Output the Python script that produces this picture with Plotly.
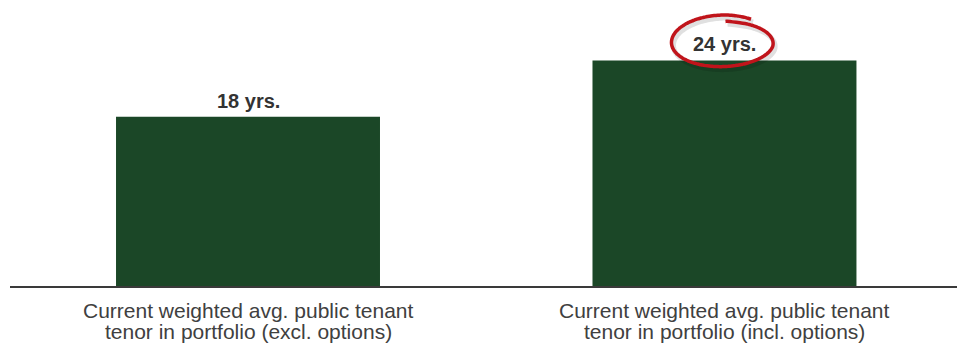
import numpy as np
import plotly.graph_objects as go

# ---- data ----
categories = [
    "Current weighted avg. public tenant<br>tenor in portfolio (excl. options)",
    "Current weighted avg. public tenant<br>tenor in portfolio (incl. options)",
]
values = [18, 24]
value_labels = ["18 yrs.", "24 yrs."]
highlight_index = 1

# ---- geometry ----
W, H = 957, 343
ML, MR, MT, MB = 10, 0, 0, 57
plot_w = W - ML - MR
plot_h = H - MT - MB
x_range = [-0.4995, 1.488]
y_range = [0, 30.43]
px_per_x = plot_w / (x_range[1] - x_range[0])
px_per_y = plot_h / (y_range[1] - y_range[0])

BAR = "#1b4727"
FONT = "Liberation Sans, Arial, sans-serif"

xs = list(range(len(categories)))

fig = go.Figure()
fig.add_trace(go.Bar(
    x=xs, y=values, width=0.554, marker=dict(color=BAR, line=dict(width=0)),
    hoverinfo="skip", showlegend=False,
))

annotations = []
for x, v, lab in zip(xs, values, value_labels):
    annotations.append(dict(x=x, y=v, xref="x", yref="y", text="<b>" + lab + "</b>", showarrow=False,
                            yanchor="bottom", yshift=3,
                            font=dict(family=FONT, size=20, color="#333333")))

for x, cat in zip(xs, categories):
    for i, line in enumerate(cat.split("<br>")):
        annotations.append(dict(x=x, y=0, xref="x", yref="paper", text=line, showarrow=False,
                                yanchor="middle", yshift=-24 - 21 * i,
                                font=dict(family=FONT, size=21, color="#404040")))

# ---- hand-drawn red circle around highlighted label ----
hx = xs[highlight_index]
hv = values[highlight_index]
cy_off_px = 18  # circle centre above bar top (px)
rx = 51
th = np.radians(np.linspace(88, 88 - 392, 200))
frac = np.linspace(0, 1, th.size)
ry = 21 + 7 * frac
rxx = rx - 4 + 4 * np.minimum(frac * 4, 1)
dx = rxx * np.cos(th)
dy = ry * np.sin(th)  # up positive
dx = np.where(frac < 0.07, np.linspace(3, 34, th.size), dx)
dy = np.where(frac < 0.07, 21 + 1.5 * np.sin(np.linspace(0, np.pi, th.size)), dy)
cx_data = hx + (-2 + dx) / px_per_x
cy_data = hv + (cy_off_px + dy) / px_per_y

fig.add_trace(go.Scatter(x=cx_data + 2 / px_per_x, y=cy_data - 3 / px_per_y, mode="lines",
                         line=dict(color="rgba(0,0,0,0.12)", width=5, shape="spline"),
                         hoverinfo="skip", showlegend=False))
fig.add_trace(go.Scatter(x=cx_data, y=cy_data, mode="lines",
                         line=dict(color="#c0141b", width=3.5, shape="spline"),
                         hoverinfo="skip", showlegend=False))

fig.update_layout(
    width=W, height=H,
    margin=dict(l=ML, r=MR, t=MT, b=MB, pad=0),
    paper_bgcolor="white", plot_bgcolor="white",
    xaxis=dict(range=x_range, showticklabels=False, ticks="", showgrid=False, zeroline=False,
               showline=True, linecolor="#3a3a3a", linewidth=2, fixedrange=True),
    yaxis=dict(range=y_range, visible=False, showgrid=False, zeroline=False, fixedrange=True),
    annotations=annotations,
    bargap=0.44,
)

fig.write_html("out.html", config={"displayModeBar": False})
